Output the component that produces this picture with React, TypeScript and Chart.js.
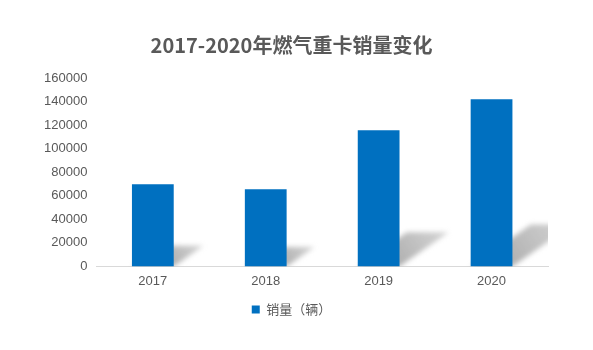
import React, { useEffect, useRef } from "react";
import { Chart, registerables } from "chart.js";

Chart.register(...registerables);

const categories = ["2017", "2018", "2019", "2020"];
const salesValues = [69800, 65500, 115700, 142000];
const seriesLabel = "销量（辆）";
const titleText = "2017-2020年燃气重卡销量变化";
const yMax = 160000;
const yStep = 20000;

const shadowPlugin = {
  id: "barShadow",
  beforeDatasetsDraw(chart: any) {
    const { ctx, chartArea } = chart;
    const meta = chart.getDatasetMeta(0);
    ctx.save();
    ctx.beginPath();
    ctx.rect(chartArea.left, chartArea.top, chartArea.right - chartArea.left, chartArea.bottom - chartArea.top);
    ctx.clip();
    ctx.filter = "blur(2.5px)";
    meta.data.forEach((bar: any) => {
      const props = bar.getProps(["x", "y", "base", "width"], true);
      const h = props.base - props.y;
      const L = props.x - props.width / 2;
      const R = props.x + props.width / 2;
      const dx = h * 0.36;
      const dy = h * 0.25;
      const g = ctx.createLinearGradient(R, props.base, R + dx, props.base - dy);
      g.addColorStop(0, "rgba(150,150,150,0.75)");
      g.addColorStop(1, "rgba(195,195,195,0.7)");
      ctx.fillStyle = g;
      ctx.beginPath();
      ctx.moveTo(L, props.base);
      ctx.lineTo(R, props.base);
      ctx.lineTo(R + dx, props.base - dy);
      ctx.lineTo(L + dx, props.base - dy);
      ctx.closePath();
      ctx.fill();
    });
    ctx.restore();
  },
};

export default function App() {
  const ref = useRef<HTMLCanvasElement | null>(null);
  useEffect(() => {
    if (!ref.current) return;
    const chart = new Chart(ref.current, {
      type: "bar",
      data: {
        labels: categories,
        datasets: [
          {
            label: seriesLabel,
            data: salesValues,
            backgroundColor: "#0070C0",
            borderWidth: 0,
            barPercentage: 0.37,
            categoryPercentage: 1,
          },
        ],
      },
      options: {
        animation: false,
        responsive: false,
        maintainAspectRatio: false,
        layout: { padding: { left: 35, right: 45, top: 0, bottom: 24 } },
        plugins: {
          title: {
            display: true,
            text: titleText,
            color: "#595959",
            font: { size: 20, weight: "bold", family: "'Noto Sans CJK SC', 'Noto Sans', sans-serif" },
            padding: { top: 33, bottom: 21 },
          },
          legend: {
            position: "bottom",
            labels: {
              boxWidth: 8,
              boxHeight: 8,
              color: "#595959",
              font: { size: 13, family: "'Noto Sans CJK SC', 'Noto Sans', sans-serif" },
              padding: 7,
            },
          },
          tooltip: { enabled: false },
        },
        scales: {
          x: {
            grid: { display: false, drawTicks: false },
            border: { display: true, color: "#d9d9d9", width: 1 },
            ticks: {
              color: "#595959",
              font: { size: 13, family: "'Liberation Sans', Arial, sans-serif" },
              padding: 7,
            },
          },
          y: {
            min: 0,
            max: yMax,
            grid: { display: false, drawTicks: false },
            border: { display: false },
            ticks: {
              stepSize: yStep,
              color: "#595959",
              font: { size: 13, family: "'Liberation Sans', Arial, sans-serif" },
              padding: 9,
              callback: (v: any) => String(v),
            },
          },
        },
      },
      plugins: [shadowPlugin],
    });
    return () => chart.destroy();
  }, []);
  return (
    <div style={{ position: "fixed", left: 0, top: 0, width: 593, height: 350, background: "#fff" }}>
      <canvas ref={ref} width={593} height={350} style={{ width: 593, height: 350 }} />
    </div>
  );
}
